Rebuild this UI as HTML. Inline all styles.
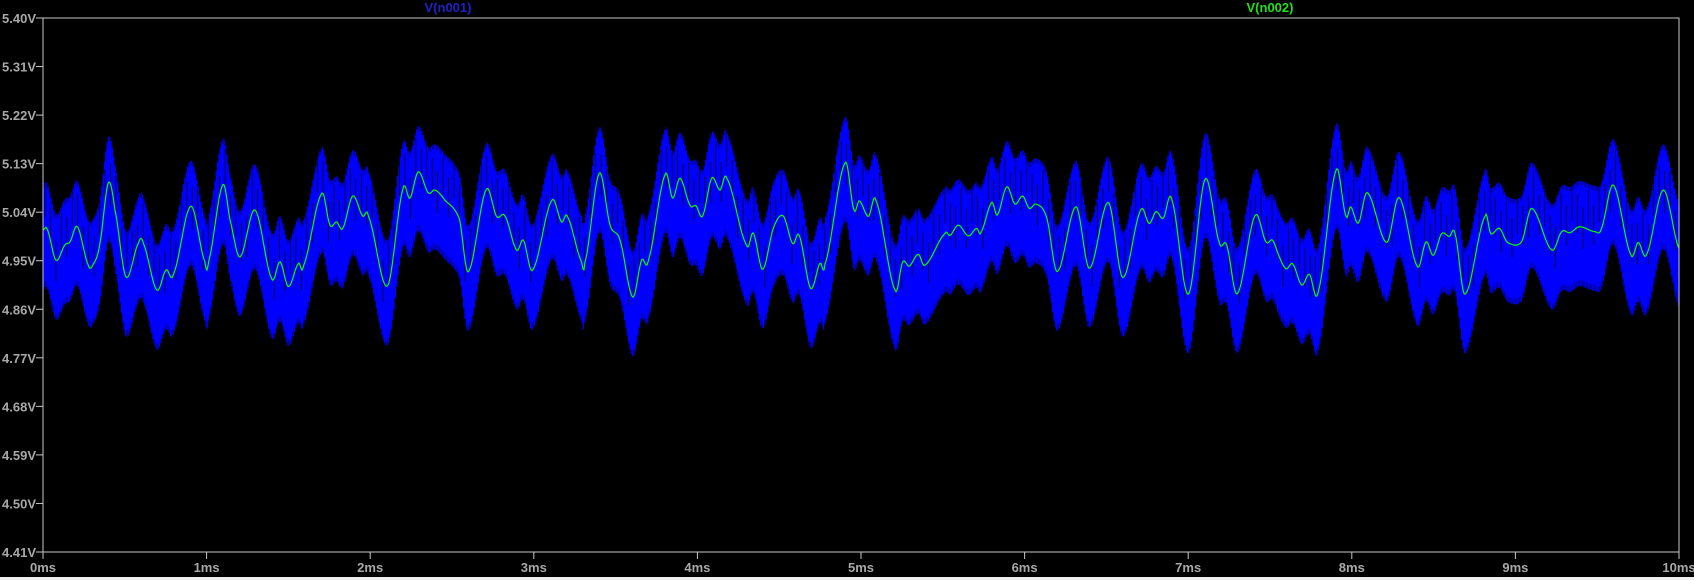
<!DOCTYPE html>
<html><head><meta charset="utf-8"><style>
html,body{margin:0;padding:0;background:#000;}
body{width:1694px;height:580px;overflow:hidden;position:relative;}
svg{position:absolute;left:0;top:0;}
text{font-family:"Liberation Sans",sans-serif;font-weight:bold;font-size:13px;}
</style></head><body>
<svg id="chart" width="1694" height="580">
<rect x="0" y="0" width="1694" height="580" fill="#000"/>
<rect x="0" y="577" width="1694" height="3" fill="#f0f0f0"/>
<g id="plot"></g>
<g id="axes"></g>
<text x="448" y="12" fill="#2020c8" text-anchor="middle">V(n001)</text>
<text x="1270" y="12" fill="#20e020" text-anchor="middle">V(n002)</text>
</svg>
<script>
const yTicks=["5.40V","5.31V","5.22V","5.13V","5.04V","4.95V","4.86V","4.77V","4.68V","4.59V","4.50V","4.41V"];
const yTickValues=[5.40,5.31,5.22,5.13,5.04,4.95,4.86,4.77,4.68,4.59,4.50,4.41];
const xTicks=["0ms","1ms","2ms","3ms","4ms","5ms","6ms","7ms","8ms","9ms","10ms"];
const xTickValues=[0,1,2,3,4,5,6,7,8,9,10];
const greenT=[0,0.026,0.079,0.134,0.165,0.210,0.277,0.308,0.348,0.399,0.440,0.507,0.583,0.613,0.695,0.752,0.797,0.903,0.990,1.011,1.098,1.143,1.204,1.296,1.398,1.449,1.500,1.561,1.591,1.703,1.754,1.795,1.832,1.893,1.954,1.989,2.105,2.199,2.243,2.294,2.355,2.396,2.457,2.545,2.600,2.708,2.773,2.824,2.895,2.936,2.993,3.109,3.170,3.205,3.293,3.313,3.400,3.466,3.527,3.604,3.659,3.700,3.802,3.849,3.894,3.955,3.991,4.032,4.087,4.138,4.179,4.301,4.342,4.399,4.464,4.525,4.582,4.623,4.692,4.749,4.780,4.902,4.957,4.990,5.045,5.092,5.208,5.255,5.295,5.350,5.391,5.513,5.544,5.595,5.656,5.707,5.732,5.799,5.833,5.891,5.941,5.988,6.029,6.070,6.135,6.200,6.314,6.396,6.512,6.600,6.709,6.762,6.803,6.848,6.899,7.001,7.103,7.190,7.235,7.300,7.408,7.476,7.516,7.557,7.598,7.639,7.694,7.740,7.795,7.903,7.965,7.993,8.040,8.095,8.213,8.290,8.400,8.454,8.498,8.549,8.596,8.631,8.692,8.814,8.849,8.902,8.951,9.038,9.100,9.222,9.283,9.334,9.391,9.487,9.526,9.599,9.705,9.751,9.802,9.904,10.0];
const greenV=[5.007,5.008,4.951,4.979,4.985,5.013,4.942,4.944,4.982,5.094,5.044,4.920,4.982,4.982,4.896,4.933,4.925,5.051,4.948,4.948,5.090,5.026,4.957,5.044,4.917,4.948,4.902,4.945,4.940,5.074,5.016,5.022,5.010,5.070,5.033,5.032,4.903,5.081,5.066,5.115,5.076,5.081,5.062,5.028,4.930,5.081,5.032,5.033,4.970,4.988,4.933,5.061,5.022,5.032,4.948,4.948,5.112,5.016,4.988,4.883,4.951,4.951,5.109,5.066,5.103,5.053,5.052,5.033,5.103,5.081,5.103,4.979,5.001,4.934,5.010,5.033,4.982,4.996,4.899,4.945,4.944,5.131,5.044,5.061,5.032,5.061,4.896,4.948,4.940,4.962,4.942,5.000,4.997,5.016,4.996,5.010,5.002,5.058,5.035,5.087,5.055,5.070,5.047,5.055,5.030,4.930,5.050,4.936,5.058,4.919,5.043,5.019,5.041,5.029,5.064,4.888,5.101,4.984,4.979,4.889,5.033,4.985,4.988,4.957,4.935,4.944,4.905,4.925,4.893,5.117,5.032,5.050,5.020,5.076,4.984,5.067,4.940,4.985,4.960,5.000,4.995,5.000,4.888,5.032,5.000,5.010,4.984,4.985,5.047,4.970,5.004,5.002,5.013,5.004,5.010,5.090,4.962,4.984,4.962,5.081,4.973];
const blueHiOffset=[0.085];
const blueLoOffset=[0.11];

const X0=43,X1=1679,Y0=18,Y1=552,VMAX=5.40,VMIN=4.41;
const xs=t=>X0+(t/10)*(X1-X0);
const ys=v=>Y0+(VMAX-v)/(VMAX-VMIN)*(Y1-Y0);
const NS='http://www.w3.org/2000/svg';
function mk(tag,attrs,parent){const e=document.createElementNS(NS,tag);for(const k in attrs)e.setAttribute(k,attrs[k]);parent.appendChild(e);return e;}
function greenAt(t){
  let i=0;while(i<greenT.length-2&&greenT[i+1]<t)i++;
  const p0=greenV[Math.max(i-1,0)],p1=greenV[i],p2=greenV[i+1],p3=greenV[Math.min(i+2,greenV.length-1)];
  const u=Math.min(1,Math.max(0,(t-greenT[i])/(greenT[i+1]-greenT[i])));
  return 0.5*((2*p1)+(-p0+p2)*u+(2*p0-5*p1+4*p2-p3)*u*u+(-p0+3*p1-3*p2+p3)*u*u*u);
}
const plot=document.getElementById('plot'),axes=document.getElementById('axes');
const M=1636;let up='',lo='';
for(let k=0;k<=M;k++){const t=10*k/M;const g=greenAt(t);
  up+=(k?'L':'M')+xs(t).toFixed(2)+' '+ys(g+blueHiOffset[0]*0.9).toFixed(2);}
for(let k=M;k>=0;k--){const t=10*k/M;const g=greenAt(t);
  lo+='L'+xs(t).toFixed(2)+' '+ys(g-blueLoOffset[0]*0.9).toFixed(2);}
const band=mk('path',{d:up+lo+'Z',fill:'#0000ff',stroke:'none'},plot);


let d='';const N=2400;
for(let k=0;k<=N;k++){const t=10*k/N;const g=greenAt(t);
  const v=(k%2===0)?g+blueHiOffset[0]:g-blueLoOffset[0];
  d+=(k?'L':'M')+xs(t).toFixed(2)+' '+ys(v).toFixed(2);}
const blue=mk('path',{d:d,fill:'none',stroke:'#0000ff','stroke-width':'1'},plot);


let dk='';
for(let k=0;k<=300;k++){const t=10*(k+0.37)/300;if(t>10)break;const g=greenAt(t);
  const a=(k*7)%5;
  dk+='M'+xs(t).toFixed(2)+' '+ys(g+blueHiOffset[0]-0.012*a).toFixed(2)+'L'+xs(t).toFixed(2)+' '+ys(g+0.02-0.015*a).toFixed(2);}
const gaps=mk('path',{d:dk,fill:'none',stroke:'#000000','stroke-width':'0.7'},plot);


let dg='';
for(let k=0;k<=1636;k++){const t=10*k/1636;dg+=(k?'L':'M')+xs(t).toFixed(2)+' '+ys(greenAt(t)).toFixed(2);}
const green=mk('path',{d:dg,fill:'none',stroke:'#00ff00','stroke-width':'1.2'},plot);


const fr=mk('path',{d:`M${X0} ${Y0}H${X1}V${Y1}H${X0}Z`,fill:'none',stroke:'#c8c8c8','stroke-width':'1'},axes);


yTickValues.forEach((v,i)=>{const y=ys(v);
  const tl=mk('line',{x1:X0-7,x2:X0,y1:y,y2:y,stroke:'#c8c8c8'},axes);
  
  
  const tx=mk('text',{x:X0-7,y:y+5,fill:'#a8a8a8','text-anchor':'end'},axes);tx.textContent=yTicks[i];
  
  
});
xTickValues.forEach((t,i)=>{const x=xs(t);
  const tl=mk('line',{x1:x,x2:x,y1:Y1,y2:Y1+7,stroke:'#c8c8c8'},axes);
  
  
  const tx=mk('text',{x:x,y:Y1+20,fill:'#a8a8a8','text-anchor':'middle'},axes);tx.textContent=xTicks[i];
  
  
});
</script>
</body></html>
